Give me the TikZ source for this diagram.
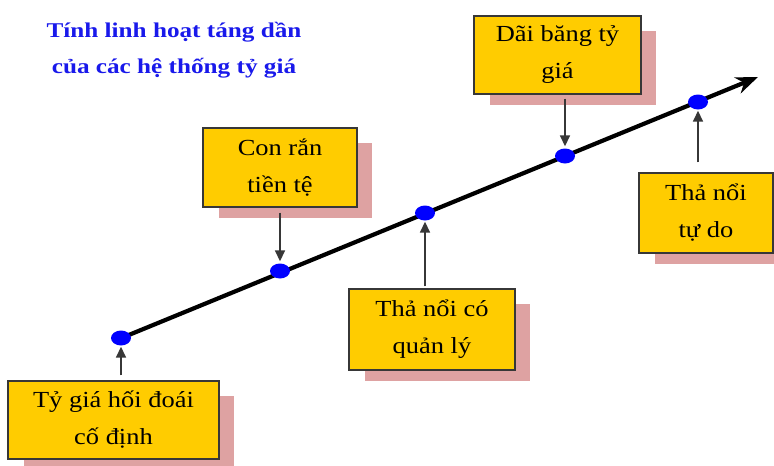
\documentclass[tikz,border=0pt]{standalone}
\usepackage{fontspec}
\setmainfont{Liberation Serif}
\newfontfamily\boxfont[FakeStretch=1.15]{Liberation Serif}
\newfontfamily\titlefont[FakeStretch=1.2]{Liberation Serif}
\usetikzlibrary{arrows.meta,calc,shapes.geometric}
\pgfdeclarelayer{background}
\pgfsetlayers{background,main}
\definecolor{boxgold}{RGB}{255,204,0}
\definecolor{shadowpink}{RGB}{222,162,162}
\definecolor{dotblue}{RGB}{0,0,255}
\definecolor{titleblue}{RGB}{25,25,235}
\definecolor{edgegray}{RGB}{55,55,55}

\begin{document}
\begin{tikzpicture}[x=1pt,y=-1pt,
  card/.style={draw=edgegray, line width=1.2pt, fill=boxgold, inner sep=0pt,
    align=center, font=\boxfont\fontsize{23}{37}\selectfont},
  stop/.style={ellipse, fill=dotblue, minimum width=20pt, minimum height=15pt, inner sep=0pt},
  axisline/.style={line width=4.2pt, -{Stealth[length=22pt,width=17pt,inset=7pt]}},
  pointer/.style={line width=1.6pt, draw=edgegray,
    -{Triangle[length=11pt,width=10pt]}},
  titletext/.style={text=titleblue, align=center,
    font=\titlefont\bfseries\fontsize{21}{36}\selectfont}]

\useasboundingbox (0,0) rectangle (774,466);
\clip (0,0) rectangle (774,466);

% title
\node[titletext] (title) at (174,50) {Tính linh hoạt táng dần\\của các hệ thống tỷ giá};

% the rising axis with its stops
\coordinate (tip) at (758,77);
\coordinate (start) at (119,339);
\draw[axisline] (start) -- (tip);
\node[stop] (d1) at (121,338) {};
\node[stop] (d2) at (280,271) {};
\node[stop] (d3) at (425,213) {};
\node[stop] (d4) at (565,156) {};
\node[stop] (d5) at (698,102) {};

% labelled boxes
\node[card, minimum width=211pt, minimum height=78pt] (b1) at (113.5,420)
  {Tỷ giá hối đoái\\cố định};
\node[card, minimum width=154pt, minimum height=79pt] (b2) at (280,167.5)
  {Con rắn\\tiền tệ};
\node[card, minimum width=166pt, minimum height=81pt] (b3) at (432,329.5)
  {Thả nổi có\\quản lý};
\node[card, minimum width=167pt, minimum height=78pt] (b4) at (557.5,55)
  {Dãi băng tỷ\\giá};
\node[card, minimum width=134pt, minimum height=80pt] (b5) at (706,213)
  {Thả nổi\\tự do};

% white page and offset shadows behind the boxes
\begin{pgfonlayer}{background}
  \clip (0,0) rectangle (774,466);
  \fill[white] (0,0) rectangle (774,466);
  \foreach \b in {b1,b2,b3,b4,b5}{
    \fill[shadowpink] ($(\b.north west)+(17,16)$) rectangle ($(\b.south east)+(14,10)$);
  }
\end{pgfonlayer}

% pointers from the boxes to their stops
\draw[pointer, shorten <=5pt, shorten >=1pt] (b1.north -| d1) -- (d1);
\draw[pointer, shorten <=5pt, shorten >=2pt] (b2.south -| d2) -- (d2);
\draw[pointer, shorten <=2pt, shorten >=1pt] (b3.north -| d3) -- (d3);
\draw[pointer, shorten <=4pt, shorten >=2pt] (b4.south -| d4) -- (d4);
\draw[pointer, shorten <=10pt, shorten >=1pt] (b5.north -| d5) -- (d5);
\end{tikzpicture}
\end{document}
